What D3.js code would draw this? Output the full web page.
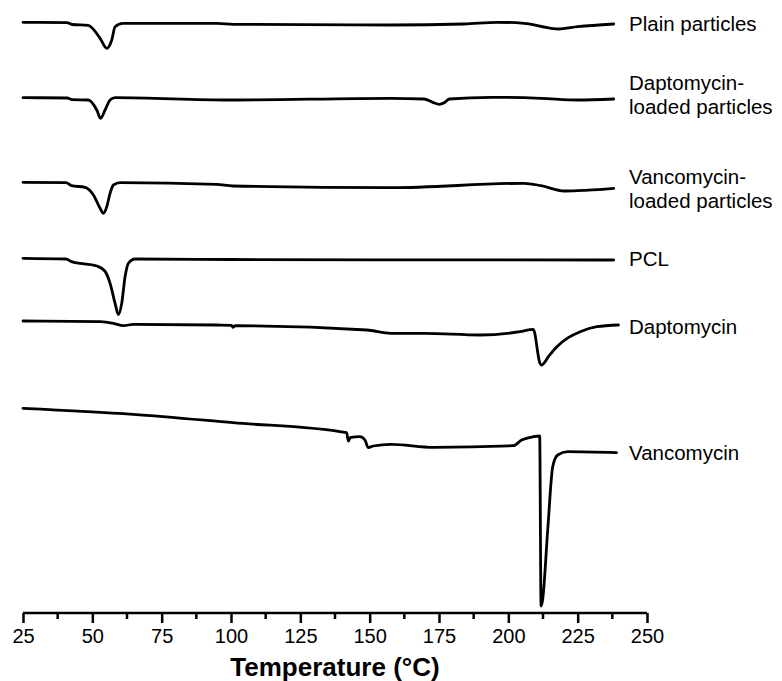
<!DOCTYPE html>
<html>
<head>
<meta charset="utf-8">
<script src="https://cdn.jsdelivr.net/npm/d3@7"></script>
<style>
  body { margin: 0; background: #fff; }
  svg { display: block; }
  text { font-family: "Liberation Sans", Arial, sans-serif; fill: #000; }
</style>
</head>
<body>
<svg id="dsc" width="782" height="681"></svg>
<script>
  // Temperature (°C), heat flow (a.u., curves offset for display)
  const plainParticles = [
    [25, 590.7], [40.9, 590.3], [42.7, 588.5], [48.5, 587.7], [52.8, 574.7], [55.2, 564.7],
    [57, 573], [58.2, 586.3], [61, 589.7], [95, 589.7], [100.8, 588.7], [157.7, 588],
    [184, 589], [196, 590.7], [205.7, 589.7], [215.4, 584.7], [218, 584], [225, 586.3], [238, 589]
  ];
  const daptoParticles = [
    [25, 515.3], [40.9, 515], [42.7, 513.3], [48.5, 513], [51.6, 503], [53, 494.7],
    [54.6, 503], [56.4, 513], [58.2, 515.3], [99.6, 513], [157.7, 514.7], [169.6, 514],
    [172.7, 510.7], [175.1, 508.7], [176.9, 510.3], [178.7, 514], [193.8, 515.7],
    [211.8, 514.7], [225, 513], [238, 514]
  ];
  const vancoParticles = [
    [25, 430.7], [40.5, 430.3], [42.5, 427.3], [47.4, 425.7], [50.4, 418], [52.8, 404.7],
    [54, 399.7], [55.2, 406.3], [56.4, 419.7], [57.6, 428], [60, 430.3], [94.8, 428.7],
    [100.7, 427], [157.7, 425.3], [205.7, 429.7], [211.8, 427.3], [220.2, 422],
    [225, 422.3], [238, 424.7]
  ];
  const pcl = [
    [25, 354.7], [40.5, 354], [42.5, 351.3], [51.6, 347], [54.5, 342], [56.4, 329.7],
    [58.2, 309.7], [59.4, 298.5], [60.6, 309.7], [61.8, 336.3], [63, 349.7], [65.4, 354],
    [100, 353.5], [238, 353]
  ];
  const daptomycin = [
    [25, 292], [52.8, 291.3], [57.6, 289.7], [61.2, 287.3], [64.8, 288.7], [94.8, 288],
    [100.2, 287.7], [100.7, 285.7], [101.5, 287.3], [149, 283], [157.7, 279.7],
    [169.6, 279.7], [189.8, 278], [204.2, 281.3], [209, 283.7], [211.4, 249.7], [212, 248],
    [214.7, 257.3], [217.5, 266.3], [221.6, 275.3], [225.9, 281.3], [231.9, 286.3], [239.7, 288]
  ];
  const vancomycin = [
    [25, 204.7], [64.7, 198.7], [100.7, 190.3], [141.7, 180.3], [142.3, 172], [143.1, 175.7],
    [146.5, 176.3], [148.3, 173], [149.5, 165.3], [151.3, 167], [157.7, 168.7], [173, 165.7],
    [201.8, 167.3], [204.8, 173], [209, 176.3], [211.3, 177], [211.8, 7], [212.3, 12],
    [214.2, 83], [216, 146.3], [217.8, 158], [221.4, 161.3], [239, 160.3]
  ];

  const seriesNames = [
    ["Plain particles"],
    ["Daptomycin-", "loaded particles"],
    ["Vancomycin-", "loaded particles"],
    ["PCL"],
    ["Daptomycin"],
    ["Vancomycin"]
  ];
  const seriesData = [plainParticles, daptoParticles, vancoParticles, pcl, daptomycin, vancomycin];

  const xTicks = [25, 50, 75, 100, 125, 150, 175, 200, 225, 250];
  const xMinorTicks = [37.5, 62.5, 87.5, 112.5, 137.5, 162.5, 187.5, 212.5, 237.5];

  const svg = d3.select("#dsc");

  const x = d3.scaleLinear().domain([25, 250]).range([23, 647]);
  const y = d3.scaleLinear().domain([0, 600]).range([613, 13]);

  const line = d3.line()
      .x(d => x(d[0]))
      .y(d => y(d[1]))
      .curve(d3.curveMonotoneX);

  // CURVES
  svg.selectAll("path.trace")
    .data(seriesData)
    .enter().append("path")
      .attr("class", "trace")
      .attr("d", line)
      .attr("fill", "none")
      .attr("stroke", "#000")
      .attr("stroke-width", 2.8)
      .attr("stroke-linejoin", "round")
      .attr("stroke-linecap", "round");

  // LABELS (baseline of first line for each curve)
  const labelBaseline = [31, 89.5, 184, 266, 333.5, 460];
  svg.selectAll("text.label")
    .data(seriesNames)
    .enter().append("text")
      .attr("class", "label")
      .attr("x", 629)
      .attr("y", (d, i) => labelBaseline[i])
      .attr("font-size", "20.5px")
      .each(function(d) {
        d3.select(this).selectAll("tspan")
          .data(d)
          .enter().append("tspan")
            .attr("x", 629)
            .attr("dy", (t, j) => j === 0 ? 0 : 24)
            .text(t => t);
      });

  // X AXIS
  const axisG = svg.append("g").attr("transform", "translate(0,613)");
  axisG.call(d3.axisBottom(x).tickValues(xTicks).tickSize(10).tickPadding(6).tickFormat(d3.format("d")));
  axisG.select(".domain").attr("d", `M${x(25)},0H${x(250)}`).attr("stroke-width", 2.5);
  axisG.selectAll(".tick line").attr("stroke-width", 2.5);
  axisG.selectAll(".tick text")
    .attr("font-family", "'Liberation Sans', Arial, sans-serif")
    .attr("font-size", "20px")
    .attr("fill", "#000");

  axisG.selectAll("line.minor")
    .data(xMinorTicks)
    .enter().append("line")
      .attr("class", "minor")
      .attr("x1", d => x(d)).attr("x2", d => x(d))
      .attr("y1", 0).attr("y2", 6)
      .attr("stroke", "#000")
      .attr("stroke-width", 2.5);

  svg.append("text")
    .attr("x", (x(25) + x(250)) / 2)
    .attr("y", 676)
    .attr("text-anchor", "middle")
    .attr("font-size", "26px")
    .attr("font-weight", "bold")
    .text("Temperature (°C)");
</script>
</body>
</html>
